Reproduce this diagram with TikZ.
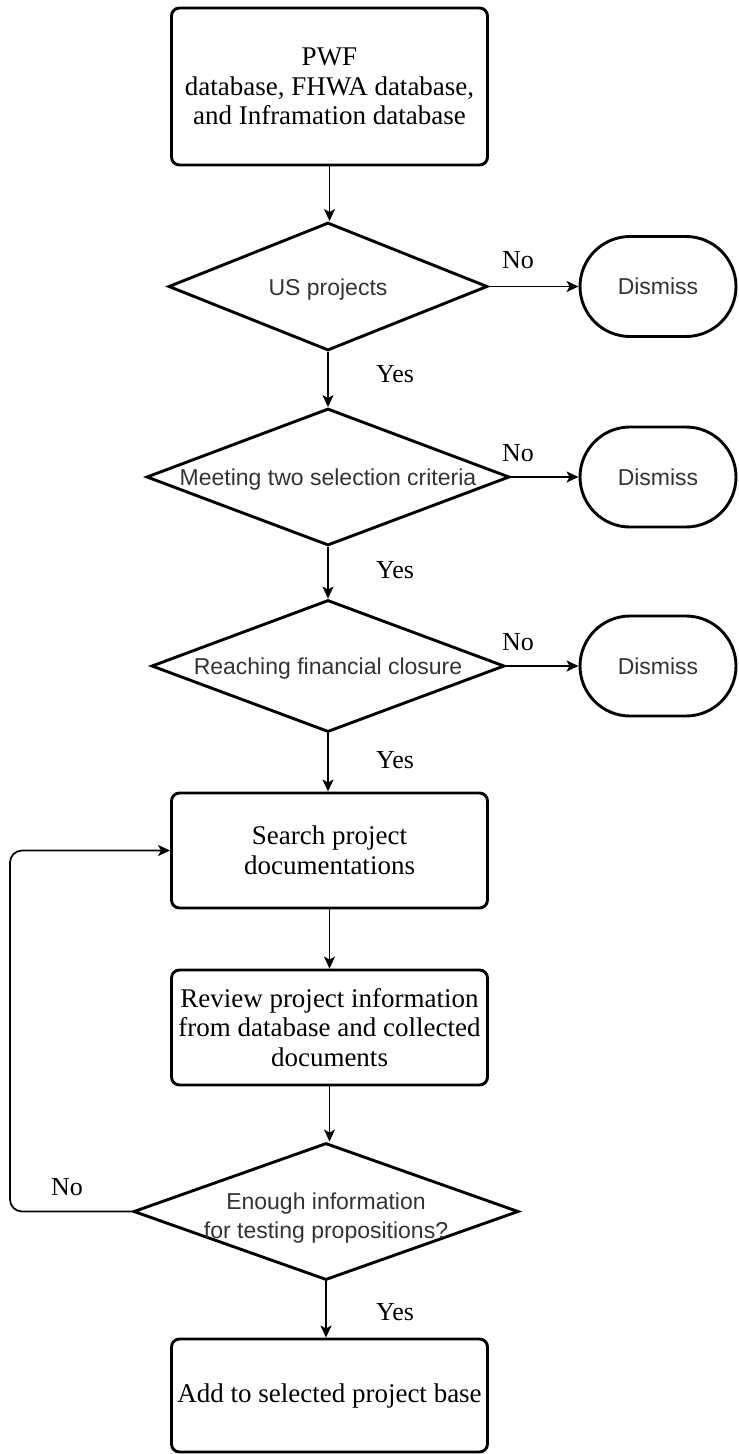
\documentclass[tikz,border=0pt]{standalone}
\usepackage{fontspec}
\setmainfont{Liberation Serif}
\newfontfamily\arialf{Liberation Sans}
\usetikzlibrary{shapes.geometric,shapes.misc,arrows.meta}
\newcommand\bxfont{\fontsize{27}{29.5}\selectfont}
\newcommand\dgfont{\arialf\fontsize{23}{29}\selectfont}
\begin{document}
\begin{tikzpicture}[x=1pt,y=-1pt,
  stepbox/.style={draw, line width=2.9pt, rounded corners=8pt, minimum width=316pt, inner sep=0pt, align=center, font=\bxfont},
  decide/.style={draw, diamond, line width=2.9pt, inner sep=0pt},
  dtext/.style={font=\dgfont, text=black!80, align=center, yshift=-3pt},
  endbox/.style={draw, rounded rectangle, line width=2.9pt, minimum width=156pt, minimum height=100pt, inner sep=0pt, font=\dgfont, text=black!80},
  conn/.style={line width=1.7pt, -{Stealth[length=12pt,width=11pt,inset=3pt]}},
  lbl/.style={font=\fontsize{26}{29}\selectfont, inner sep=0pt}
]
\useasboundingbox (0,0) rectangle (739,1454);

\node[stepbox, minimum height=157pt] (b1) at (329.5,86.5) {PWF\\database, FHWA database,\\and Inframation database};

\node[decide, minimum width=319pt, minimum height=128pt, label={[dtext]center:US projects}] (d1) at (328,286.5) {};
\node[endbox] (s1) at (658,286.5) {Dismiss};

\node[decide, minimum width=363pt, minimum height=137pt, label={[dtext]center:Meeting two selection criteria}] (d2) at (328,477) {};
\node[endbox] (s2) at (658,477) {Dismiss};

\node[decide, minimum width=353pt, minimum height=132pt, label={[dtext]center:Reaching financial closure}] (d3) at (328,666) {};
\node[endbox] (s3) at (658,666) {Dismiss};

\node[stepbox, minimum height=115pt] (b2) at (329.5,850.5) {Search project\\documentations};
\node[stepbox, minimum height=115pt] (b3) at (329.5,1027.5) {Review project information\\from database and collected\\documents};

\node[decide, minimum width=385pt, minimum height=137pt, label={[dtext, yshift=-4pt]center:Enough information\\for testing propositions?}] (d4) at (326,1211.5) {};

\node[stepbox, minimum height=113pt] (b4) at (329.5,1395.5) {Add to selected project base};

% labels
\node[lbl] (n1) at (518,260) {No};
\node[lbl] (n2) at (518,453) {No};
\node[lbl] (n3) at (518,642) {No};
\node[lbl] (n4) at (67,1187) {No};
\node[lbl] (y1) at (395,374) {Yes};
\node[lbl] (y2) at (395,570) {Yes};
\node[lbl] (y3) at (395,760) {Yes};
\node[lbl] (y4) at (395,1312) {Yes};

\coordinate (lx) at (10,1030);

% connectors
\draw[conn] (b1.south) -- (b1.south |- d1.north);
\draw[conn] (d1.east) -- (s1.west);
\draw[conn] (d1.south) -- (d1.south |- d2.north);
\draw[conn] (d2.east) -- (s2.west);
\draw[conn] (d2.south) -- (d2.south |- d3.north);
\draw[conn] (d3.east) -- (s3.west);
\draw[conn] (d3.south) -- (d3.south |- b2.north);
\draw[conn] (b2.south) -- (b3.north);
\draw[conn] (b3.south) -- (b3.south |- d4.north);
\draw[conn] (d4.south) -- (d4.south |- b4.north);
\draw[conn, rounded corners=12pt] (d4.west) -| (lx) |- (b2.west);
\end{tikzpicture}
\end{document}
